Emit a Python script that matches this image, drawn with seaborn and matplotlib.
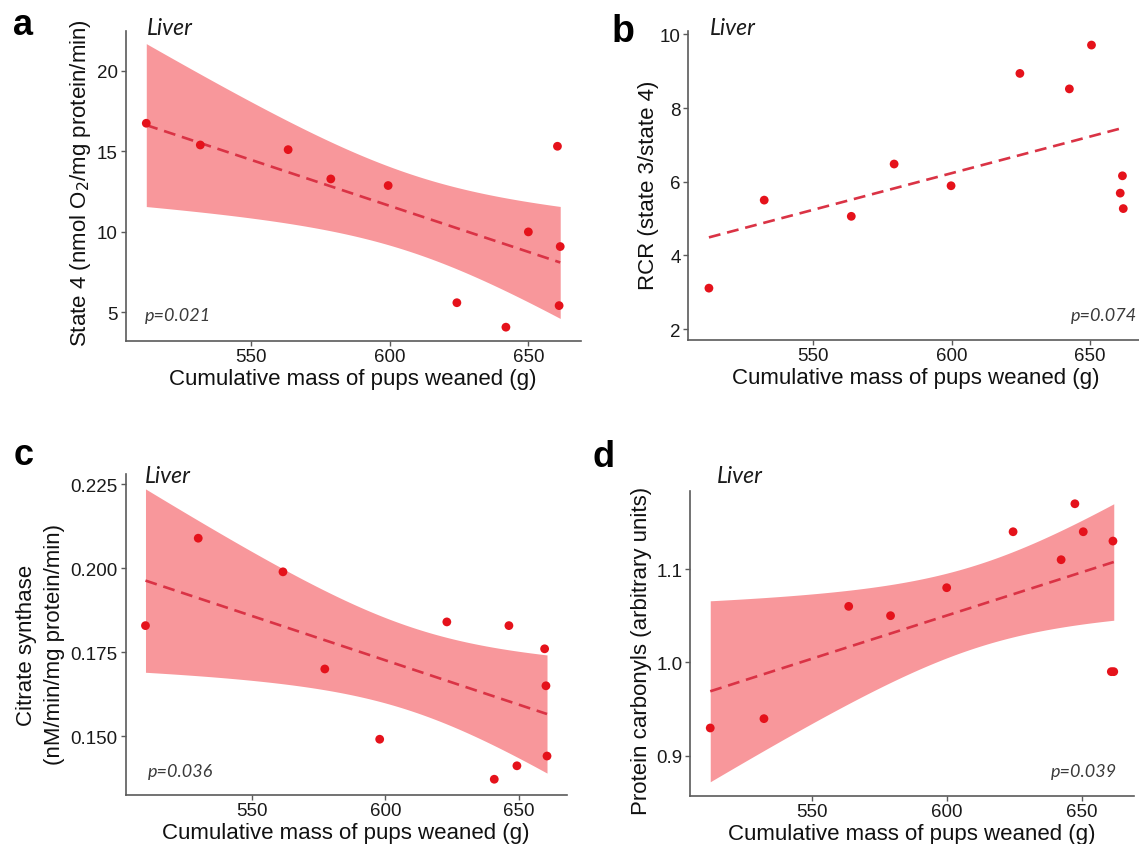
import numpy as np
import pandas as pd
import matplotlib
matplotlib.use("Agg")
import matplotlib.pyplot as plt
import seaborn as sns

# ---------------- data ----------------
a_x = [512.1, 531.6, 563.3, 578.7, 599.4, 624.2, 641.9, 650.0, 660.5, 661.5, 661.1]
a_y = [16.75, 15.40, 15.11, 13.29, 12.88, 5.60, 4.08, 10.00, 15.32, 9.09, 5.42]

b_x = [512.2, 532.2, 563.7, 579.2, 599.8, 624.7, 642.6, 650.6, 661.8, 661.0, 662.1]
b_y = [3.11, 5.50, 5.06, 6.48, 5.89, 8.94, 8.52, 9.71, 6.16, 5.69, 5.27]

c_x = [510.0, 529.8, 561.6, 577.3, 597.9, 623.1, 646.4, 659.8, 660.3, 660.7, 649.4, 640.9]
c_y = [0.1829, 0.2089, 0.1989, 0.1700, 0.1491, 0.1840, 0.1829, 0.1760, 0.1650, 0.1441, 0.1412, 0.1372]

d_x = [512.3, 532.2, 563.6, 579.1, 599.9, 624.5, 642.3, 647.4, 650.5, 661.5, 660.9, 661.8]
d_y = [0.9296, 0.9396, 1.060, 1.050, 1.080, 1.140, 1.110, 1.170, 1.140, 1.130, 0.990, 0.990]

panel_letters = ["a", "b", "c", "d"]
tissue = "Liver"
p_values = ["p=0.021", "p=0.074", "p=0.036", "p=0.039"]
x_title = "Cumulative mass of pups weaned (g)"
y_titles = ["State 4 (nmol O$_2$/mg protein/min)",
            "RCR (state 3/state 4)",
            "Citrate synthase\n(nM/min/mg protein/min)",
            "Protein carbonyls (arbitrary units)"]
x_ticks = [550, 600, 650]
a_yticks = [5, 10, 15, 20]
b_yticks = [2, 4, 6, 8, 10]
c_yticks = [0.150, 0.175, 0.200, 0.225]
d_yticks = [0.9, 1.0, 1.1]

# ---------------- style ----------------
sns.set_style("ticks")
plt.rcParams["font.family"] = ["Liberation Sans", "DejaVu Sans"]

POINT = "#E5121B"
LINE = "#DA3345"
BAND = "#F8979B"
SPINE = "#5a5a5a"

W, H = 1139, 845
fig = plt.figure(figsize=(W / 100, H / 100), dpi=100)


def rect(l, r, t, b):
    return [l / W, 1 - b / H, (r - l) / W, (b - t) / H]


T_Q = {9: 2.262, 10: 2.228, 11: 2.201}


def band(ax, x, y):
    x = np.asarray(x, float)
    y = np.asarray(y, float)
    n = len(x)
    slope, icpt = np.polyfit(x, y, 1)
    res = y - (icpt + slope * x)
    s = np.sqrt(np.sum(res ** 2) / (n - 2))
    sxx = np.sum((x - x.mean()) ** 2)
    xg = np.linspace(x.min(), x.max(), 100)
    fit = icpt + slope * xg
    se = s * np.sqrt(1 / n + (xg - x.mean()) ** 2 / sxx)
    t = T_Q[n - 2]
    ax.fill_between(xg, fit - t * se, fit + t * se, color=BAND, lw=0, zorder=1)


specs = [
    dict(x=a_x, y=a_y, rect=rect(125.5, 581, 31.7, 341.7), xlim=(504.6, 669.0), ylim=(3.24, 22.5),
         yticks=a_yticks, fmt="{:g}", ci=True, ylab=(-0.072, 0.512)),
    dict(x=b_x, y=b_y, rect=rect(688.2, 1144, 31.7, 340.7), xlim=(504.7, 669.6), ylim=(1.71, 10.1),
         yticks=b_yticks, fmt="{:g}", ci=False, ylab=(-0.064, 0.504)),
    dict(x=c_x, y=c_y, rect=rect(125.5, 567, 475, 795.7), xlim=(502.5, 668.2), ylim=(0.1326, 0.228),
         yticks=c_yticks, fmt="{:.3f}", ci=True, ylab=(-0.136, 0.47)),
    dict(x=d_x, y=d_y, rect=rect(690, 1134, 491.7, 796.7), xlim=(504.8, 669.3), ylim=(0.857, 1.184),
         yticks=d_yticks, fmt="{:.1f}", ci=True, ylab=(-0.086, 0.478)),
]

axes = []
for i, sp in enumerate(specs):
    ax = fig.add_axes(sp["rect"])
    axes.append(ax)
    df = pd.DataFrame({"x": sp["x"], "y": sp["y"]})
    if sp["ci"]:
        band(ax, df["x"], df["y"])
    sns.regplot(data=df, x="x", y="y", ax=ax, ci=None, truncate=True,
                scatter_kws=dict(s=40, color=POINT, edgecolor="none", zorder=3, alpha=1),
                line_kws=dict(color=LINE, lw=1.9, dashes=(4.5, 2.6), zorder=2))
    ax.set_xlim(*sp["xlim"])
    ax.set_ylim(*sp["ylim"])
    ax.set_xticks(x_ticks)
    ax.set_xticklabels([str(v) for v in x_ticks])
    ax.set_yticks(sp["yticks"])
    ax.set_yticklabels([sp["fmt"].format(v) for v in sp["yticks"]])
    for side in ["top", "right"]:
        ax.spines[side].set_visible(False)
    for side in ["left", "bottom"]:
        ax.spines[side].set_color(SPINE)
        ax.spines[side].set_linewidth(1.2)
    ax.tick_params(axis="both", length=3.5, width=1.0, color=SPINE, labelsize=13.5,
                   labelcolor="#1a1a1a", pad=2)
    ax.set_xlabel(x_title, fontsize=16, color="#111111", labelpad=2)
    ax.set_ylabel(y_titles[i], fontsize=16, color="#111111", linespacing=1.45)
    ax.yaxis.set_label_coords(*sp["ylab"])
    ax.set_facecolor("white")

# panel letters
letters_pos = [(13, 35, 26), (612, 42, 27), (14, 465, 26), (592, 467, 26)]
for (lx, ly, fs), L in zip(letters_pos, panel_letters):
    fig.text(lx / W, 1 - ly / H, L, fontsize=fs, fontweight="bold", ha="left", va="baseline",
             color="black")

# tissue labels
liver_pos = [(147, 35), (710, 35), (145, 483), (717, 483)]
for lx, ly in liver_pos:
    fig.text(lx / W, 1 - ly / H, tissue, fontsize=16.5, style="italic", family="Lato",
             ha="left", va="baseline", color="#1a1a1a")

# p-values
p_pos = [(145, 321, "left"), (1137, 321, "right"), (148, 777, "left"), (1117, 777, "right")]
for (px, py, ha), ptxt in zip(p_pos, p_values):
    fig.text(px / W, 1 - py / H, ptxt, fontsize=13, style="italic", family="Lato",
             ha=ha, va="baseline", color="#3a3a3a")

fig.savefig("out.png", dpi=100, facecolor="white")
